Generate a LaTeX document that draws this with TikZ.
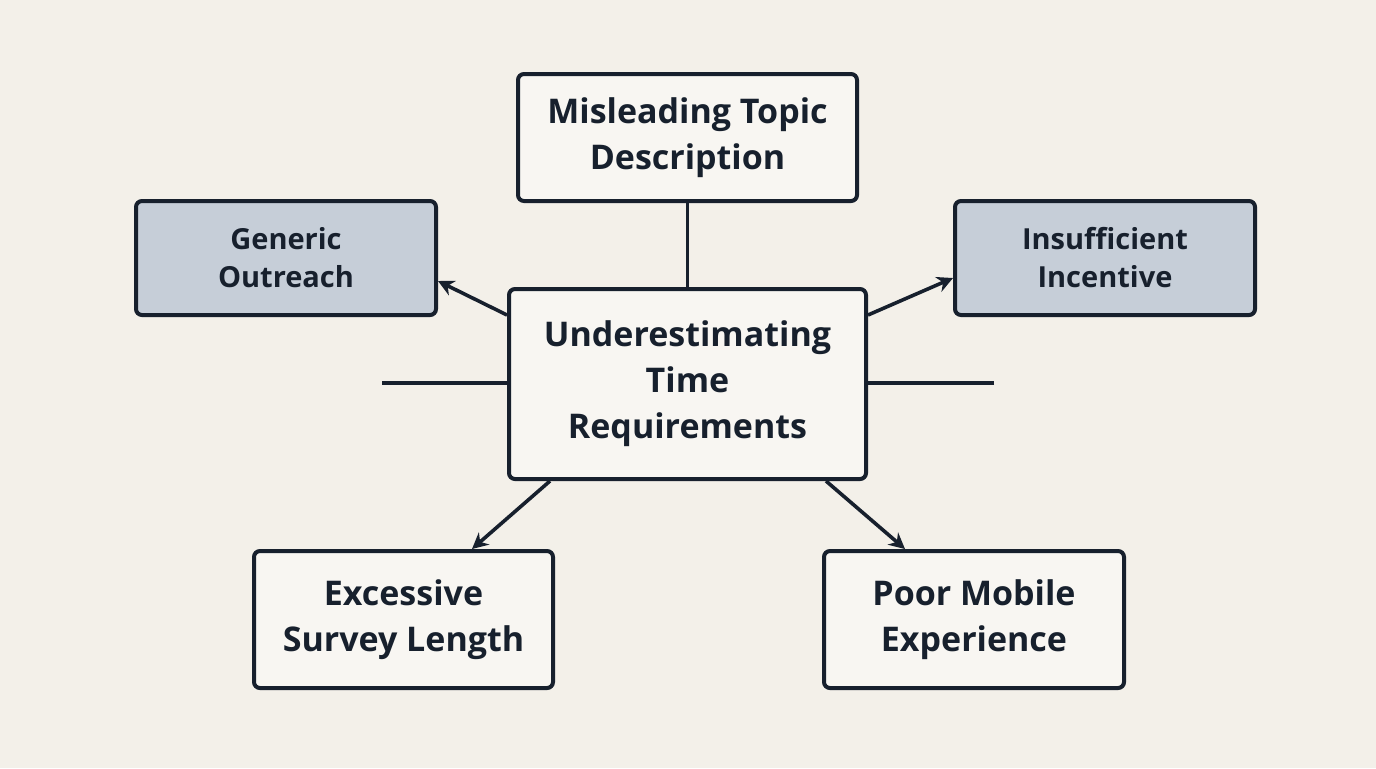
\documentclass[tikz,border=0pt]{standalone}
\usepackage{fontspec}
\setmainfont{Open Sans}
\usetikzlibrary{arrows.meta}
\definecolor{bg}{HTML}{F3F0E9}
\definecolor{ink}{HTML}{17202D}
\definecolor{blu}{HTML}{C6CED8}
\begin{document}
\begin{tikzpicture}[x=0.5pt,y=-0.5pt,
 box/.style={draw=ink,line width=2pt,rounded corners=3pt,fill=white!40!bg,text=ink,align=center,inner sep=0pt,font=\fontsize{17}{23}\selectfont\bfseries},
 sbox/.style={box,fill=blu,font=\fontsize{14.5}{19}\selectfont\bfseries},
 ln/.style={draw=ink,line width=1.8pt},
 ar/.style={ln,-{Stealth[length=8pt,width=8pt]}}]
\fill[bg] (0,0) rectangle (1376,768);
\node[box,minimum width=169.5pt,minimum height=63.5pt] (top) at (687.5,137.5) {Misleading Topic\\Description};
\node[sbox,minimum width=150pt,minimum height=57pt] (gen) at (286,258) {Generic\\Outreach};
\node[sbox,minimum width=150pt,minimum height=57pt] (ins) at (1105,258) {Insufficient\\Incentive};
\node[box,minimum width=178.5pt,minimum height=95pt] (c) at (687.5,384) {Underestimating\\Time\\Requirements};
\node[box,minimum width=149.5pt,minimum height=68.5pt] (ex) at (403.5,619.5) {Excessive\\Survey Length};
\node[box,minimum width=150pt,minimum height=68.5pt] (po) at (974,619.5) {Poor Mobile\\Experience};
\coordinate (l) at (382,383); \coordinate (r) at (994,383);
\draw[ln] (top.south) -- (c.north);
\draw[ar] (507,315) -- (438,281);
\draw[ar] (868,315) -- (953,278);
\draw[ln] (l) -- (c.west |- l);
\draw[ln] (r) -- (c.east |- r);
\draw[ar] (550,481) -- (472,549);
\draw[ar] (826,481) -- (905,549);
\end{tikzpicture}
\end{document}
